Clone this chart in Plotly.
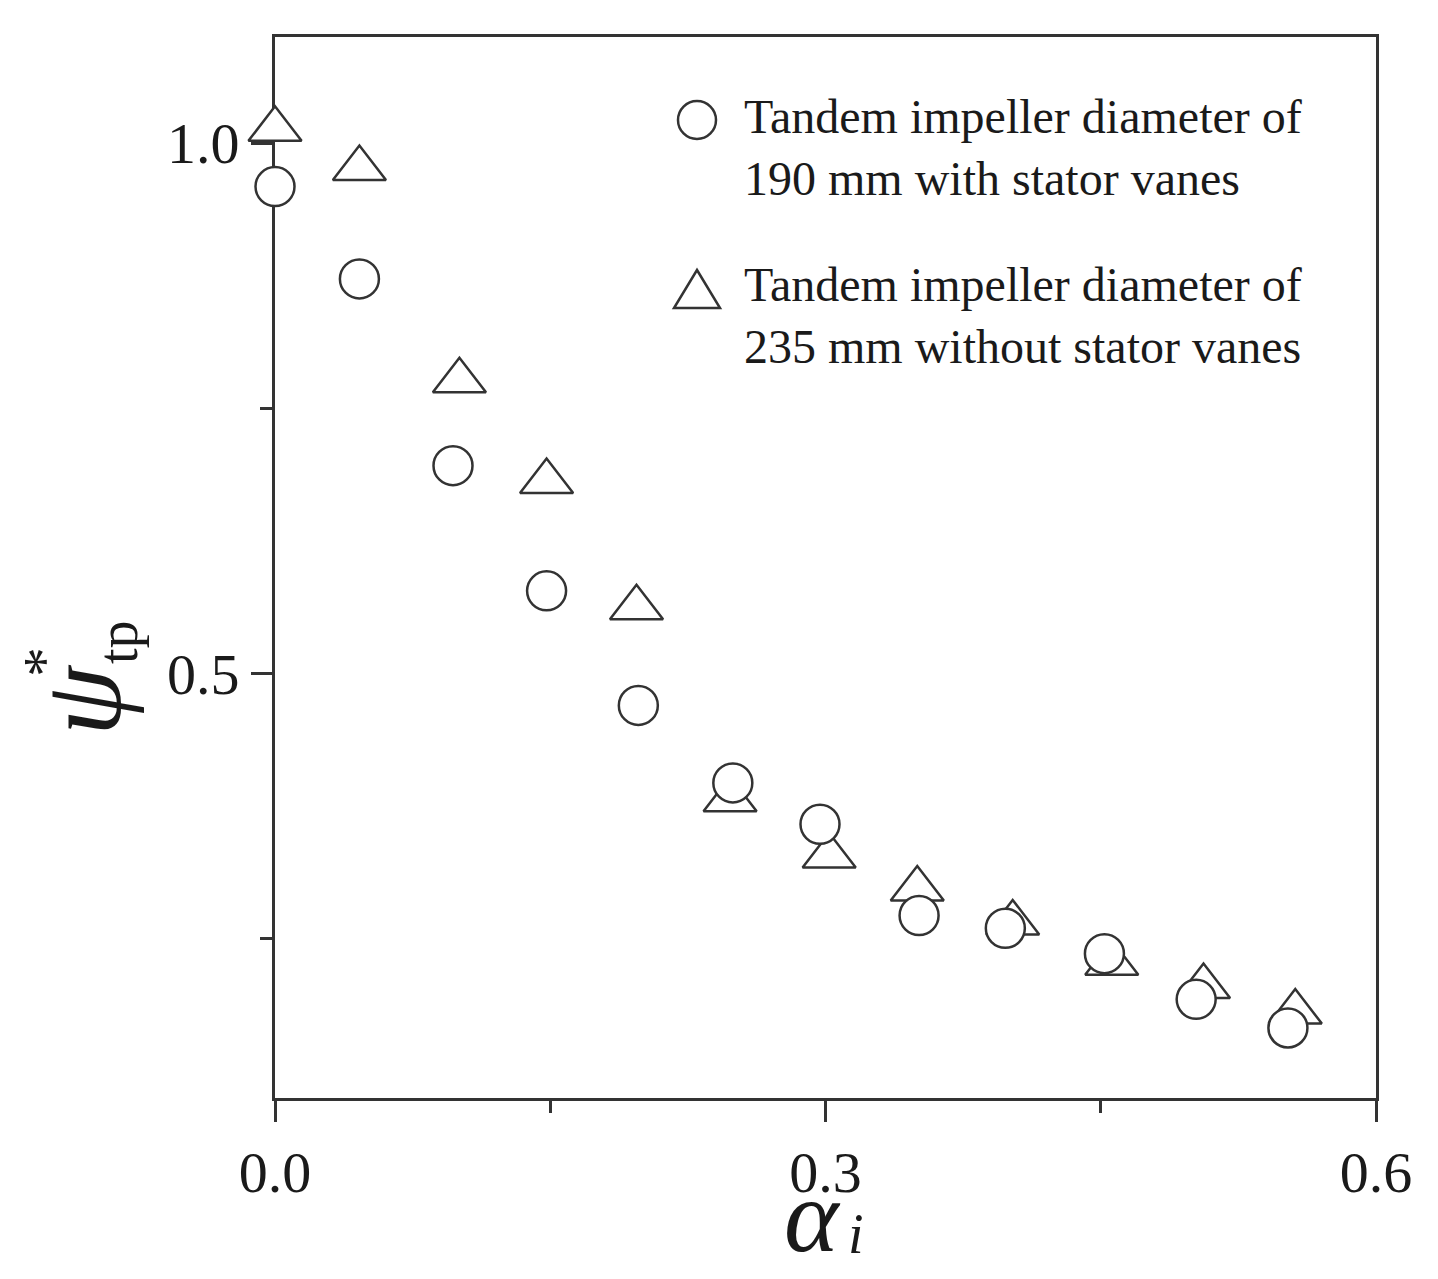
import plotly.graph_objects as go

# valeurs
alpha_190 = [0.0, 0.046, 0.097, 0.148, 0.198, 0.2495, 0.297, 0.351, 0.398, 0.452, 0.502, 0.552]
psi_190 = [0.959, 0.872, 0.696, 0.578, 0.470, 0.397, 0.358, 0.272, 0.260, 0.236, 0.193, 0.166]

alpha_235 = [0.0, 0.046, 0.1005, 0.148, 0.197, 0.248, 0.302, 0.350, 0.402, 0.456, 0.506, 0.556]
psi_235 = [1.013, 0.976, 0.776, 0.681, 0.562, 0.381, 0.328, 0.297, 0.265, 0.227, 0.205, 0.181]

nom_190 = "Tandem impeller diameter of<br>190 mm with stator vanes"
nom_235 = "Tandem impeller diameter of<br>235 mm without stator vanes"

# la page ajoute 8 px de marge autour de la figure
MARGE_PAGE = 8
W, H = 1438 - 2 * MARGE_PAGE, 1279 - 2 * MARGE_PAGE
# zone de tracé, en pixels de la page
L, R, T, B = 275, 1376, 37, 1098
ENCRE = "#333333"
TEXTE = "#1a1a1a"
POLICE = "Liberation Serif"


def px(x):
    return (x - L) / (R - L)


def py(y):
    return (B - y) / (B - T)


fig = go.Figure()

fig.add_trace(go.Scatter(
    x=alpha_235, y=psi_235, mode="markers", cliponaxis=False,
    marker=dict(symbol="triangle-up", size=46, color="white",
                line=dict(color=ENCRE, width=2.5)),
    showlegend=False,
))
fig.add_trace(go.Scatter(
    x=alpha_190, y=psi_190, mode="markers", cliponaxis=False,
    marker=dict(symbol="circle", size=39, color="white",
                line=dict(color=ENCRE, width=2.5)),
    showlegend=False,
))

# légende dessinée à la main (symboles aussi grands que dans l'original)
fig.add_shape(type="circle", xref="paper", yref="paper",
              x0=px(678), x1=px(716), y0=py(139), y1=py(101),
              line=dict(color=ENCRE, width=2.5), fillcolor="white")
fig.add_shape(type="path", xref="paper", yref="paper",
              path=(f"M{px(697)},{py(270)} L{px(720)},{py(308)} "
                    f"L{px(674)},{py(308)} Z"),
              line=dict(color=ENCRE, width=2.5), fillcolor="white")

for texte, y_haut in [(nom_190, 88), (nom_235, 256)]:
    fig.add_annotation(
        text=texte, xref="paper", yref="paper",
        x=px(742), y=py(y_haut), xanchor="left", yanchor="top",
        align="left", showarrow=False,
        font=dict(family=POLICE, size=48, color=TEXTE),
    )

# titres des axes
fig.add_annotation(
    text="<i>α</i>", xref="paper", yref="paper",
    x=px(812), y=py(1215), xanchor="center", yanchor="middle",
    height=100, valign="middle",
    showarrow=False, font=dict(family=POLICE, size=104, color=TEXTE),
)
fig.add_annotation(
    text="<i>i</i>", xref="paper", yref="paper",
    x=px(856), y=py(1234), xanchor="center", yanchor="middle",
    height=44, valign="middle",
    showarrow=False, font=dict(family=POLICE, size=56, color=TEXTE),
)
fig.add_annotation(
    text="<i>ψ</i>", xref="paper", yref="paper", textangle=-90,
    x=px(82), y=py(700), xanchor="center", yanchor="middle",
    showarrow=False, font=dict(family=POLICE, size=112, color=TEXTE),
)
fig.add_annotation(
    text="tp", xref="paper", yref="paper", textangle=-90,
    x=px(118), y=py(642), xanchor="center", yanchor="middle",
    showarrow=False, font=dict(family=POLICE, size=56, color=TEXTE),
)
fig.add_annotation(
    text="*", xref="paper", yref="paper", textangle=-90,
    x=px(44), y=py(662), xanchor="center", yanchor="middle",
    showarrow=False, font=dict(family=POLICE, size=60, color=TEXTE),
)

axe = dict(
    showline=True, linecolor=ENCRE, linewidth=3, mirror=True,
    showgrid=False, zeroline=False, layer="below traces",
    ticks="outside", ticklen=21, tickwidth=2.5, tickcolor=ENCRE,
    tickfont=dict(family=POLICE, size=58, color=TEXTE),
    tickformat=".1f",
)

fig.update_xaxes(**axe, range=[0, 0.6], tick0=0, dtick=0.3,
                 minor=dict(ticks="outside", ticklen=12, tickwidth=2.5,
                            tickcolor=ENCRE, dtick=0.15, tick0=0))
fig.update_yaxes(**axe, range=[0.1, 1.1], tick0=0, dtick=0.5,
                 minor=dict(ticks="outside", ticklen=12, tickwidth=2.5,
                            tickcolor=ENCRE, dtick=0.25, tick0=0))

fig.update_layout(
    width=W, height=H,
    margin=dict(l=L - MARGE_PAGE, r=W + MARGE_PAGE - R,
                t=T - MARGE_PAGE, b=H + MARGE_PAGE - B),
    plot_bgcolor="white", paper_bgcolor="white",
    showlegend=False,
)

fig.write_html("out.html")
